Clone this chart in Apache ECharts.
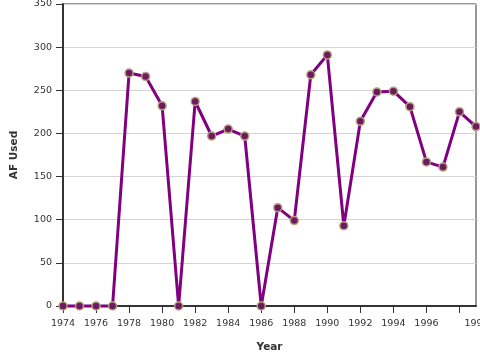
<!DOCTYPE html>
<html>
<head>
<meta charset="utf-8">
<script src="https://cdn.jsdelivr.net/npm/echarts@6/dist/echarts.min.js"></script>
<style>html,body{margin:0;padding:0;background:#fff;}#c{width:480px;height:360px;}</style>
</head>
<body>
<div id="c"></div>
<script>
var years = [1974,1975,1976,1977,1978,1979,1980,1981,1982,1983,1984,1985,1986,1987,1988,1989,1990,1991,1992,1993,1994,1995,1996,1997,1998,1999];
var afUsed = [0,0,0,0,270,266,232,0,237,197,205,197,0,114,99,268,291,93,214,248,249,231,167,161,225,208];
var yTicks = [0,50,100,150,200,250,300,350];

var chart = echarts.init(document.getElementById('c'), null, {renderer:'canvas'});
chart.setOption({
  animation: false,
  backgroundColor: '#fff',
  grid: {left: 63, right: 4, top: 4, bottom: 54, show: true, borderColor: '#333', borderWidth: 1,
         containLabel: false, outerBoundsMode: 'none'},
  xAxis: {
    type: 'value', min: 1974, max: 1999, interval: 2,
    name: 'Year', nameLocation: 'middle', nameGap: 36,
    nameTextStyle: {fontFamily: 'DejaVu Sans', fontSize: 10.5, fontWeight: 'bold', color: '#333'},
    axisLine: {show: true, onZero: false, lineStyle: {color: '#333', width: 2}},
    axisTick: {show: true, length: 7, lineStyle: {color: '#333', width: 1}},
    splitLine: {show: false},
    axisLabel: {
      fontFamily: 'DejaVu Sans', fontSize: 9.5, color: '#333', margin: 13,
      showMaxLabel: false,
      formatter: function (v) { return v === 1998 ? '{s|1998}' : String(v); },
      rich: {s: {fontFamily: 'DejaVu Sans', fontSize: 9.5, color: '#333', padding: [0, 0, 0, 34]}}
    }
  },
  yAxis: {
    type: 'value', min: 0, max: 350, interval: 50,
    name: 'AF Used', nameLocation: 'middle', nameGap: 43, nameRotate: 90,
    nameTextStyle: {fontFamily: 'DejaVu Sans', fontSize: 10.5, fontWeight: 'bold', color: '#333'},
    axisLine: {show: true, lineStyle: {color: '#333', width: 2}},
    axisTick: {show: true, length: 7, lineStyle: {color: '#333', width: 1}},
    splitLine: {show: true, lineStyle: {color: '#d4d4d4', width: 1}},
    axisLabel: {fontFamily: 'DejaVu Sans', fontSize: 9.5, color: '#333', margin: 11,
      formatter: function (v) { return yTicks.indexOf(v) >= 0 ? String(v) : ''; }}
  },
  series: [{
    type: 'line',
    data: years.map(function (y, i) { return [y, afUsed[i]]; }),
    lineStyle: {color: '#800080', width: 3},
    symbol: 'circle', symbolSize: 8,
    itemStyle: {color: '#6e1a60', borderColor: '#b3a27c', borderWidth: 1.5},
    clip: false,
    z: 5
  }]
});
</script>
</body>
</html>
